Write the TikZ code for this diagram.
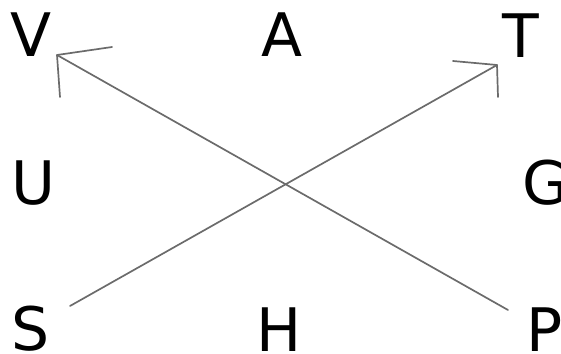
\documentclass[tikz,border=0pt]{standalone}
\usepackage{fontspec}
\setmainfont{DejaVu Sans}
\begin{document}
\begin{tikzpicture}[x=1pt,y=-1pt,
  letter/.style={inner sep=0pt,font=\fontsize{60}{60}\selectfont,text=black},
  conn/.style={draw=black!58,line width=1.7pt,line cap=round,line join=round}]
\useasboundingbox (0,0) rectangle (561,353);
\node[letter] (V) at (31,35) {V};
\node[letter] (A) at (282,35) {A};
\node[letter] (T) at (521,36) {T};
\node[letter] (U) at (33,183) {U};
\node[letter] (G) at (546,183) {G};
\node[letter] (S) at (31,329) {S};
\node[letter] (H) at (279,330) {H};
\node[letter] (P) at (545,330) {P};
% arrow P -> V
\coordinate (p0) at (508,310);
\coordinate (vt) at (57,55);
\coordinate (va) at (112,47);
\coordinate (vb) at (60,97);
% arrow S -> T
\coordinate (s0) at (70,306);
\coordinate (tt) at (497,65);
\coordinate (ta) at (453,61);
\coordinate (tb) at (498,97);
\draw[conn] (p0) -- (vt);
\draw[conn] (va) -- (vt) -- (vb);
\draw[conn] (s0) -- (tt);
\draw[conn] (ta) -- (tt) -- (tb);
\end{tikzpicture}
\end{document}
